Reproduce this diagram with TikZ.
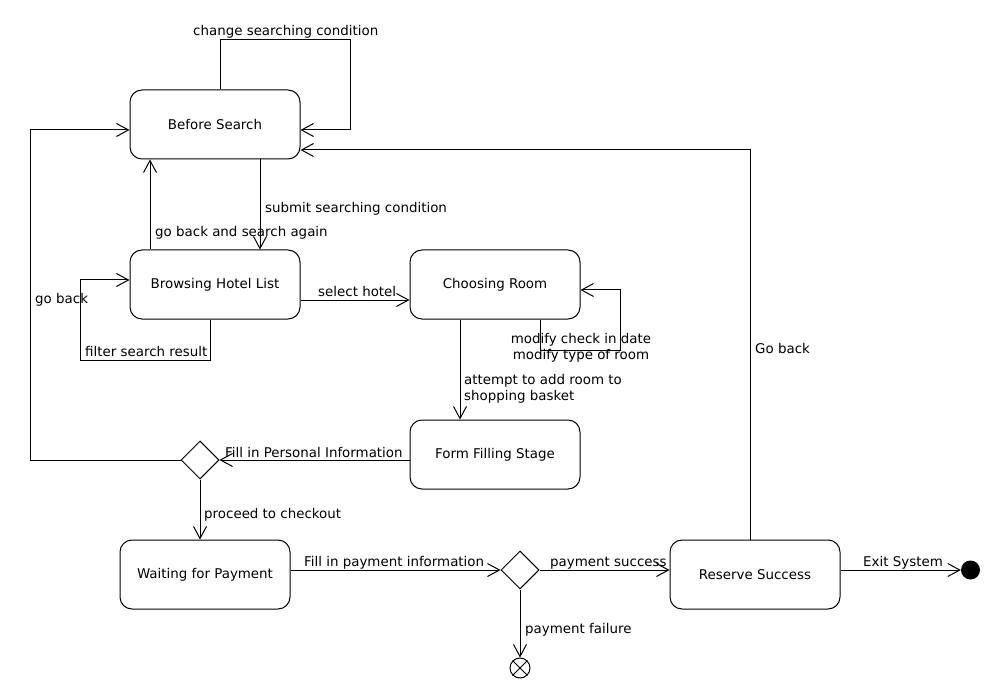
\documentclass[tikz,border=0pt]{standalone}
\usepackage{fontspec}
\setmainfont{DejaVu Sans}
\usetikzlibrary{arrows.meta,shapes.geometric}
\begin{document}
\begin{tikzpicture}[x=1pt,y=-1pt,
  every node/.style={font=\fontsize{13.4}{16}\selectfont},
  state/.style={draw, rounded corners=12pt, minimum width=170pt, minimum height=69pt, inner sep=0pt, line width=1pt},
  choice/.style={draw, diamond, aspect=1, minimum width=38pt, minimum height=38pt, inner sep=0pt, line width=1pt},
  lbl/.style={anchor=base west, inner sep=0pt},
  conn/.style={line width=1pt, -{Straight Barb[length=12pt,width=13pt,line width=1pt]}},
  plain/.style={line width=1pt}]
\useasboundingbox (0,0) rectangle (1000,700);
% states
\node[state] (bs) at (215,124.5) {Before Search};
\node[state] (bh) at (215,284.5) {Browsing Hotel List};
\node[state] (cr) at (495,284.5) {Choosing Room};
\node[state] (ff) at (495,454.5) {Form Filling Stage};
\node[state] (wp) at (205,574.5) {Waiting for Payment};
\node[state] (rs) at (755,574.5) {Reserve Success};
\node[choice] (d1) at (200,460) {};
\node[choice] (d2) at (520,570) {};
\node[circle, draw, line width=1pt, minimum size=20pt, inner sep=0pt] (ffin) at (520,668) {};
\draw[line width=1pt] (ffin.north west) -- (ffin.south east) (ffin.north east) -- (ffin.south west);
\node[circle, fill, minimum size=19pt, inner sep=0pt] (fin) at (970.5,570) {};
% connectors
\draw[conn] (220,0 |- bs.north) -- (220,40) -- (350,40) -- (350,130) -- (bs.east |- 0,130);
\draw[conn] (260,0 |- bs.south) -- (260,0 |- bh.north);
\draw[conn] (150,0 |- bh.north) -- (150,0 |- bs.south);
\draw[conn] (210,0 |- bh.south) -- (210,360) -- (80,360) -- (80,280) -- (bh.west |- 0,280);
\draw[conn] (bh.east |- 0,300) -- (cr.west |- 0,300);
\draw[conn] (540,0 |- cr.south) -- (540,350) -- (620,350) -- (620,290) -- (cr.east |- 0,290);
\draw[conn] (460,0 |- cr.south) -- (460,0 |- ff.north);
\draw[conn] (ff.west |- d1.east) -- (d1.east);
\draw[conn] (d1.west) -- (30,460) -- (30,130) -- (bs.west |- 0,130);
\draw[conn] (d1.south) -- (d1.south |- wp.north);
\draw[conn] (wp.east |- d2.west) -- (d2.west);
\draw[conn] (d2.east) -- (rs.west |- d2.east);
\draw[conn] (d2.south) -- (ffin.north);
\draw[conn] (750,0 |- rs.north) -- (750,150) -- (bs.east |- 0,150);
\draw[conn] (rs.east |- fin.west) -- (fin.west);
% labels
\node[lbl] (l1) at (193,36) {change searching condition};
\node[lbl] (l2) at (265,213) {submit searching condition};
\node[lbl] (l3) at (155,237) {go back and search again};
\node[lbl] (l4) at (35,303) {go back};
\node[lbl] (l5) at (85,356) {filter search result};
\node[lbl] (l6) at (318,296) {select hotel};
\node[anchor=north, inner sep=0pt, align=center] (l7) at (581,333) {modify check in date\\modify type of room};
\node[anchor=north west, inner sep=0pt, align=left] (l8) at (464,374) {attempt to add room to\\shopping basket};
\node[lbl] (l9) at (225,457) {Fill in Personal Information};
\node[lbl] (l10) at (204,518) {proceed to checkout};
\node[lbl] (l11) at (304,566) {Fill in payment information};
\node[lbl] (l12) at (525,633) {payment failure};
\node[lbl] (l13) at (550,566) {payment success};
\node[lbl] (l14) at (863,566) {Exit System};
\node[lbl] (l15) at (755,353) {Go back};
\end{tikzpicture}
\end{document}
